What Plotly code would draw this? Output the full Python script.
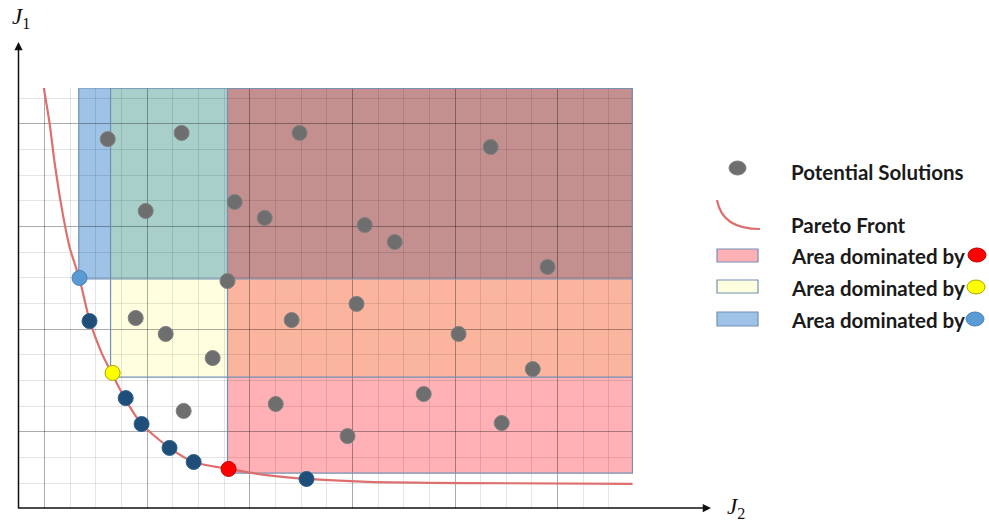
import plotly.graph_objects as go

# ---------------- data (grid-cell units: J2 horizontal, J1 vertical) ----------------
sol_j2 = [3.46, 6.34, 10.94, 4.94, 8.41, 9.58, 18.39, 13.48, 14.65, 20.61, 8.13, 4.55,
          5.72, 7.55, 10.63, 6.42, 10.01, 13.16, 17.14, 20.03, 15.78, 18.82, 12.81]
sol_j1 = [14.41, 14.65, 14.65, 11.61, 11.96, 11.34, 14.10, 11.06, 10.40, 9.43, 8.88, 7.44,
          6.82, 5.88, 7.36, 3.82, 4.09, 7.99, 6.82, 5.45, 4.48, 3.35, 2.84]

front_pts_j2 = [2.75, 4.16, 4.78, 5.87, 6.81, 11.21]
front_pts_j1 = [7.32, 4.32, 3.31, 2.38, 1.83, 1.17]

dom_names = ["red", "yellow", "blue"]
dom_j2 = [8.17, 3.65, 2.36]
dom_j1 = [1.56, 5.30, 9.00]

# dominated-area rectangles: lower-left corners, common upper-right corner
area_x0 = [8.13, 3.57, 2.33]
area_y0 = [1.40, 5.14, 8.96]
area_x1 = 23.92
area_y1 = 16.40

curve_j2 = [0.96, 1.19, 1.39, 1.66, 1.97, 2.36, 2.75, 3.22, 3.61, 4.12, 4.78, 5.87,
            6.81, 8.17, 9.65, 11.21, 13.60, 17.50, 23.92]
curve_j1 = [16.44, 15.04, 13.48, 11.76, 10.21, 8.96, 7.36, 6.08, 5.30, 4.32, 3.31, 2.38,
            1.83, 1.56, 1.32, 1.17, 1.06, 1.01, 0.98]

legend_labels = ["Potential Solutions", "Pareto Front", "Area dominated by",
                 "Area dominated by", "Area dominated by"]

# ---------------- styling ----------------
W_FIG, H_FIG = 989, 525
L, T = 19, 88
PW, PH = 614, 421
XR = [0, 23.94]
YR = [0, 16.40]

C_PINK, C_YEL, C_BLUE = "#FFB1B6", "#FFFFE0", "#9EC3E6"
C_TEAL, C_ORANGE, C_BROWN = "#A9CFCB", "#FBB59E", "#C48F8F"
C_EDGE = "#7390B4"
C_CURVE = "#DE6F6F"
dom_fill = {"red": "#FF0000", "yellow": "#FFFF00", "blue": "#5B9BD5"}
dom_line = {"red": "#C00000", "yellow": "#A6A600", "blue": "#4A7FB5"}


def PX(px):
    return (px - L) / PW


def PY(py):
    return (T + PH - py) / PH


fig = go.Figure()

shapes = []
x0r, x0y, x0b = area_x0
y0r, y0y, y0b = area_y0
regions = [
    (x0b, y0b, C_BLUE),
    (x0y, y0y, C_YEL),
    (x0y, y0b, C_TEAL),
    (x0r, y0r, C_PINK),
    (x0r, y0y, C_ORANGE),
    (x0r, y0b, C_BROWN),
]
for rx, ry, col in regions:
    shapes.append(dict(type="rect", xref="x", yref="y", x0=rx, y0=ry, x1=area_x1, y1=area_y1,
                       fillcolor=col, line=dict(width=0), layer="below"))
for rx, ry in zip(area_x0, area_y0):
    shapes.append(dict(type="rect", xref="x", yref="y", x0=rx, y0=ry, x1=area_x1, y1=area_y1,
                       fillcolor="rgba(0,0,0,0)", line=dict(color=C_EDGE, width=1.2),
                       layer="between"))

# Pareto front curve
fig.add_trace(go.Scatter(x=curve_j2, y=curve_j1, mode="lines",
                         line=dict(color=C_CURVE, width=2.2, shape="spline", smoothing=0.7),
                         hoverinfo="skip", showlegend=False, cliponaxis=False))
# potential solutions
fig.add_trace(go.Scatter(x=sol_j2, y=sol_j1, mode="markers",
                         marker=dict(size=15, color="#6E6E6E", line=dict(color="#808080", width=1)),
                         showlegend=False, cliponaxis=False))
# non-dominated solutions on front
fig.add_trace(go.Scatter(x=front_pts_j2, y=front_pts_j1, mode="markers",
                         marker=dict(size=15, color="#1F4E79", line=dict(color="#2C5E8E", width=1)),
                         showlegend=False, cliponaxis=False))
# highlighted dominating points
fig.add_trace(go.Scatter(x=dom_j2, y=dom_j1, mode="markers",
                         marker=dict(size=15, color=[dom_fill[n] for n in dom_names],
                                     line=dict(color=[dom_line[n] for n in dom_names], width=1)),
                         showlegend=False, cliponaxis=False))

# ---------------- legend (drawn manually) ----------------
ann = []
# gray oval
shapes.append(dict(type="circle", xref="paper", yref="paper",
                   x0=PX(729), x1=PX(746), y0=PY(161), y1=PY(175),
                   fillcolor="#6E6E6E", line=dict(color="#808080", width=1)))
# arc
shapes.append(dict(type="path", xref="paper", yref="paper",
                   path=f"M {PX(717)},{PY(200)} Q {PX(722)},{PY(229)} {PX(760)},{PY(229)}",
                   line=dict(color=C_CURVE, width=2.2)))
sw_y = [(249, 262), (280, 293), (312, 326)]
sw_c = [C_PINK, C_YEL, C_BLUE]
for (a, b), c in zip(sw_y, sw_c):
    shapes.append(dict(type="rect", xref="paper", yref="paper",
                       x0=PX(717), x1=PX(758), y0=PY(b), y1=PY(a),
                       fillcolor=c, line=dict(color=C_EDGE, width=1.2)))
text_y = [172, 225, 256, 288, 320]
for lab, ty in zip(legend_labels, text_y):
    ann.append(dict(xref="paper", yref="paper", x=PX(789), y=PY(ty), xanchor="left",
                    yanchor="middle", showarrow=False, text=f"<b>{lab}</b>",
                    font=dict(family="Lato", size=20.5, color="#1A1A1A")))
mk_x = [977, 976, 975]
for n, ty in zip(dom_names, text_y[2:]):
    cx = mk_x[dom_names.index(n)]
    shapes.append(dict(type="circle", xref="paper", yref="paper",
                       x0=PX(cx - 9), x1=PX(cx + 9), y0=PY(ty - 1 + 7), y1=PY(ty - 1 - 7),
                       fillcolor=dom_fill[n], line=dict(color=dom_line[n], width=1)))

# axes arrows
ann.append(dict(xref="paper", yref="paper", x=PX(711), y=PY(508), ax=-(711 - 17), ay=0,
                axref="pixel", ayref="pixel", showarrow=True, arrowhead=2, arrowsize=1.1,
                arrowwidth=1.5, arrowcolor="#111111", text=""))
ann.append(dict(xref="paper", yref="paper", x=PX(18.5), y=PY(42), ax=0, ay=(510 - 42),
                axref="pixel", ayref="pixel", showarrow=True, arrowhead=2, arrowsize=1.1,
                arrowwidth=1.5, arrowcolor="#111111", text=""))
# axis titles
ann.append(dict(xref="paper", yref="paper", x=PX(21), y=PY(18), xanchor="center",
                yanchor="middle", showarrow=False,
                text="<i>J</i><sub>1</sub>", font=dict(family="Liberation Serif", size=23,
                                                       color="#111111")))
ann.append(dict(xref="paper", yref="paper", x=PX(736), y=PY(508), xanchor="center",
                yanchor="middle", showarrow=False,
                text="<i>J</i><sub>2</sub>", font=dict(family="Liberation Serif", size=23,
                                                       color="#111111")))

grid_minor = "rgba(0,0,0,0.10)"
grid_major = "rgba(0,0,0,0.33)"
fig.update_layout(
    width=W_FIG, height=H_FIG, autosize=False,
    margin=dict(l=L, r=W_FIG - L - PW, t=T, b=H_FIG - T - PH, pad=0),
    paper_bgcolor="white", plot_bgcolor="white",
    shapes=shapes, annotations=ann, showlegend=False,
    xaxis=dict(range=XR, showticklabels=False, ticks="", zeroline=False, showline=False,
               showgrid=True, tick0=1, dtick=4, gridcolor=grid_major, gridwidth=1,
               minor=dict(tick0=0, dtick=1, showgrid=True, gridcolor=grid_minor, gridwidth=1),
               fixedrange=True),
    yaxis=dict(range=YR, showticklabels=False, ticks="", zeroline=False, showline=False,
               showgrid=True, tick0=3, dtick=4, gridcolor=grid_major, gridwidth=1,
               minor=dict(tick0=0, dtick=1, showgrid=True, gridcolor=grid_minor, gridwidth=1),
               fixedrange=True),
)

fig.write_html("out.html", config={"displayModeBar": False},
               post_script="document.body.style.margin='0px';document.body.style.overflow='hidden';")
